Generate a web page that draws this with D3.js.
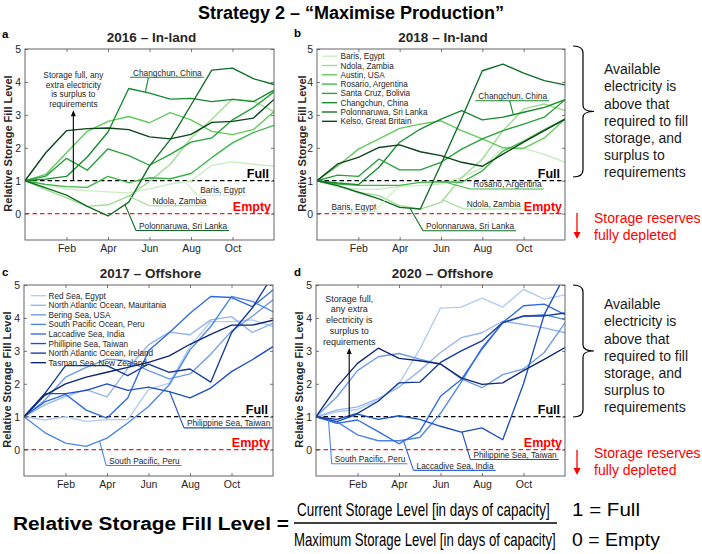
<!DOCTYPE html>
<html><head><meta charset="utf-8">
<script src="https://cdn.jsdelivr.net/npm/d3@7"></script>
<style>
body{margin:0;background:#fff;}
svg{display:block;font-family:"Liberation Sans",Arial,sans-serif;}
</style></head><body>
<svg id="chart" width="702" height="554"></svg>
<script>
// ---------- data ----------
const months = [0,1,2,3,4,5,6,7,8,9,10,11,12];
const tickMonths = [2,4,6,8,10];
const tickLabels = ["Feb","Apr","Jun","Aug","Oct"];
const yTicks = [0,1,2,3,4,5];

const inlandNames = ["Baris, Egypt","Ndola, Zambia","Austin, USA","Rosario, Argentina","Santa Cruz, Bolivia","Changchun, China","Polonnaruwa, Sri Lanka","Kelso, Great Britain"];
const offshoreNames = ["Red Sea, Egypt","North Atlantic Ocean, Mauritania","Bering Sea, USA","South Pacific Ocean, Peru","Laccadive Sea, India","Phillipine Sea, Taiwan","North Atlantic Ocean, Ireland","Tasman Sea, New Zealand"];

const greens = ["#c8eec0","#9edc92","#62c95c","#3bb548","#28a03a","#178a2e","#0f6c24","#0a4418"];
const blues  = ["#b0cbf4","#93b3ee","#6e9ae8","#4d85e7","#2f6adf","#1d4ec4","#153a98","#0c2570"];

const inland2016 = [
  [1,0.87,0.75,0.70,0.66,0.63,0.75,0.90,1.00,1.47,1.57,1.50,1.44],
  [1,0.73,0.48,0.22,0.27,0.53,0.98,1.50,2.30,2.87,3.48,3.42,3.10],
  [1,1.19,1.85,2.50,2.80,2.95,2.76,3.07,2.85,2.50,2.40,2.55,3.10],
  [1,0.89,0.82,0.80,1.13,0.94,1.09,1.06,1.22,1.70,2.15,2.46,2.68],
  [1,1.14,1.68,1.32,1.97,1.76,1.47,1.80,2.17,2.30,2.85,3.22,3.70],
  [1,1.05,1.13,1.72,2.48,3.80,3.66,3.48,3.50,3.40,3.47,3.40,3.75],
  [1,0.78,0.56,0.22,-0.07,0.35,1.45,2.25,3.30,4.36,4.42,4.10,3.92],
  [1,1.85,2.52,2.58,2.60,2.55,2.33,2.27,2.41,2.77,2.80,2.90,3.47]
];
const inland2018 = [
  [1,0.80,0.75,0.74,0.83,0.85,0.90,1.10,1.40,2.00,1.98,1.80,1.56],
  [1,0.85,0.65,0.55,0.24,0.14,0.34,1.10,1.66,2.52,3.18,3.33,3.13],
  [1,1.45,1.96,2.27,2.59,2.72,2.82,2.52,2.27,2.00,1.98,2.30,2.87],
  [1,0.90,0.86,0.86,0.86,0.95,0.97,0.95,1.30,1.90,2.20,2.55,2.87],
  [1,1.17,1.13,1.66,1.33,1.33,1.56,1.96,2.27,2.52,2.72,2.93,3.46],
  [1,0.93,0.88,1.41,2.17,2.57,2.87,3.13,2.85,2.93,3.08,3.23,3.46],
  [1,0.85,0.65,0.45,0.19,0.14,1.50,2.90,4.34,4.54,4.27,4.04,3.91],
  [1,1.51,1.71,2.01,2.09,1.88,1.76,1.56,1.44,1.81,2.17,2.52,2.87]
];
const offshore2017 = [
  [1,0.90,1.00,0.86,0.91,0.91,1.82,2.02,3.13,3.89,3.89,3.94,3.74],
  [1,1.36,1.62,1.82,1.60,2.47,3.18,3.57,3.49,3.94,4.04,3.56,3.84],
  [1,1.50,2.20,2.50,2.75,2.70,2.40,2.15,2.30,2.90,3.60,4.05,4.55],
  [1,0.52,0.20,0.10,0.35,0.81,1.31,1.97,3.03,3.74,4.65,4.50,4.19],
  [1,1.45,1.68,1.20,0.96,1.57,3.00,3.55,4.14,4.65,4.62,4.34,4.85],
  [1,1.70,1.70,1.80,2.00,1.80,1.90,1.76,1.57,1.87,2.37,2.73,3.13],
  [1,1.70,2.55,2.55,2.55,2.25,2.60,2.35,2.45,2.05,3.55,4.30,5.30],
  [1,1.65,2.00,2.20,2.35,2.50,2.65,2.85,3.20,3.50,3.78,3.78,3.93]
];
const offshore2020 = [
  [1,1.15,1.22,1.50,2.00,3.05,4.30,4.33,4.60,4.33,4.87,4.57,4.70],
  [1,1.20,1.30,1.55,1.90,2.40,2.95,3.40,3.55,3.90,3.80,3.70,3.55],
  [1,1.60,2.40,2.82,2.92,2.75,2.60,2.15,1.88,2.28,2.45,2.95,3.85],
  [1,0.85,0.45,0.27,0.27,0.37,1.10,2.05,3.10,3.85,4.05,4.10,3.95],
  [1,0.80,0.90,0.55,0.18,0.55,1.62,2.13,3.05,3.86,4.37,4.42,4.10],
  [1,0.85,1.08,0.92,1.03,0.92,0.71,0.53,0.66,0.30,2.00,4.10,5.30],
  [1,0.92,1.10,1.47,2.03,2.05,2.65,3.00,3.30,3.86,4.06,4.06,4.15],
  [1,1.90,2.62,3.08,2.77,2.70,2.60,2.18,1.98,2.03,2.40,2.74,3.10]
];

// callout labels: series index, text, underline start month / level, leader start month, leader target month
const labelsA = [
  {s:5, text:"Changchun, China", u0:5.06, uy:4.14, lx:5.95, lm:5.8},
  {s:0, text:"Baris, Egypt", u0:8.3, uy:0.56, lx:8.3, lm:7.7},
  {s:1, text:"Ndola, Zambia", u0:6.0, uy:0.24, lx:6.0, lm:5.0},
  {s:6, text:"Polonnaruwa, Sri Lanka", u0:5.35, uy:-0.51, lx:5.35, lm:4.82}
];
const labelsB = [
  {s:5, text:"Changchun, China", u0:7.66, uy:3.43, lx:9.32, lm:9.5},
  {s:3, text:"Rosario, Argentina", u0:7.42, uy:0.75, lx:7.42, lm:6.13},
  {s:1, text:"Ndola, Zambia", u0:7.1, uy:0.14, lx:7.1, lm:6.1},
  {s:0, text:"Baris, Egypt", u0:0.56, uy:0.06, lx:2.74, lm:3.95},
  {s:6, text:"Polonnaruwa, Sri Lanka", u0:5.13, uy:-0.52, lx:5.13, lm:4.5}
];
const labelsC = [
  {s:5, text:"Philippine Sea, Taiwan", u0:7.71, uy:0.66, lx:7.71, lm:7.02},
  {s:3, text:"South Pacific, Peru", u0:3.96, uy:-0.48, lx:3.96, lm:3.64}
];
const labelsD = [
  {s:3, text:"South Pacific, Peru", u0:0.76, uy:-0.43, lx:0.76, lm:0.6},
  {s:4, text:"Laccadive Sea, India", u0:4.7, uy:-0.63, lx:4.7, lm:4.22},
  {s:5, text:"Philippine Sea, Taiwan", u0:7.44, uy:-0.3, lx:7.44, lm:7.04}
];
const noteA = ["Storage full, any","extra electricity","is surplus to","requirements"];
const noteD = ["Storage full,","any extra","electricity is","surplus to","requirements"];
const sideNote = ["Available","electricity is","above that","required to fill","storage, and","surplus to","requirements"];
const sideRed = ["Storage reserves","fully depleted"];

// ---------- drawing ----------
const svg = d3.select("#chart");
const TXT = "#262626";

svg.append("text").attr("x",351).attr("y",19).attr("text-anchor","middle")
  .attr("font-size",18).attr("font-weight","bold").attr("fill","#000")
  .text("Strategy 2 – “Maximise Production”");

const panels = [
  {tag:"a", title:"2016 – In-land", x:25, y:49, w:249, h:191, names:inlandNames, data:inland2016, colors:greens, labels:labelsA, legend:null, ylabX:8.3, tagPos:[2,38], note:{lines:noteA, m:2.33, top:3.14, y0:78, step:9.7, fs:8.3}},
  {tag:"b", title:"2018 – In-land", x:317, y:49, w:248, h:191, names:inlandNames, data:inland2018, colors:greens, labels:labelsB, legend:{top:7.2, step:9.3, s0:5, s1:20, tx:23.5}, ylabX:301.7, tagPos:[294,37]},
  {tag:"c", title:"2017 – Offshore", x:24, y:285, w:249, h:191, names:offshoreNames, data:offshore2017, colors:blues, labels:labelsC, legend:{top:10.7, step:9.57, s0:6.7, s1:22, tx:24.5}, ylabX:7.3, tagPos:[2,276]},
  {tag:"d", title:"2020 – Offshore", x:316, y:285, w:249, h:191, names:offshoreNames, data:offshore2020, colors:blues, labels:labelsD, legend:null, ylabX:299.3, tagPos:[294,276], note:{lines:noteD, m:1.6, top:3.09, y0:301.5, step:10.8, fs:9}}
];

function valAt(arr, m){
  const i = Math.min(Math.floor(m), arr.length-2), t = m - i;
  return arr[i]*(1-t) + arr[i+1]*t;
}

panels.forEach((p,pi)=>{
  const xs = d3.scaleLinear().domain([0,12]).range([p.x, p.x+p.w]);
  const ys = d3.scaleLinear().domain([-0.8,5]).range([p.y+p.h, p.y]);
  const g = svg.append("g");

  g.append("text").attr("x",p.tagPos[0]).attr("y",p.tagPos[1]).attr("font-size",11.5)
    .attr("font-weight","bold").attr("fill","#000").text(p.tag);
  g.append("text").attr("x",p.x+p.w/2+2).attr("y",p.y-7.5).attr("text-anchor","middle")
    .attr("font-size",13.5).attr("font-weight","bold").attr("fill",TXT).text(p.title);

  g.append("text").attr("transform",`translate(${p.ylabX+4},${p.y+p.h/2-1}) rotate(-90)`)
    .attr("text-anchor","middle").attr("font-size",11).attr("font-weight","bold")
    .attr("fill",TXT).text("Relative Storage Fill Level");

  const cid = "clip"+pi;
  svg.append("clipPath").attr("id",cid).append("rect")
    .attr("x",p.x).attr("y",p.y).attr("width",p.w).attr("height",p.h);

  g.append("line").attr("x1",xs(0)).attr("x2",xs(12)).attr("y1",ys(1)).attr("y2",ys(1))
    .attr("stroke","#000").attr("stroke-width",1.3).attr("stroke-dasharray","4.5,3");
  g.append("line").attr("x1",xs(0)).attr("x2",xs(12)).attr("y1",ys(0)).attr("y2",ys(0))
    .attr("stroke","#ff1a1a").attr("stroke-width",1.3).attr("stroke-dasharray","4.5,3");
  g.append("text").attr("x",xs(12)-5).attr("y",ys(1)-2.5).attr("text-anchor","end")
    .attr("font-size",12.5).attr("font-weight","bold").attr("fill","#000").text("Full");
  g.append("text").attr("x",xs(12)-3).attr("y",ys(0)-2.5).attr("text-anchor","end")
    .attr("font-size",12.5).attr("font-weight","bold").attr("fill","#ff0000").text("Empty");

  const line = d3.line().x((d,i)=>xs(months[i])).y(d=>ys(d));
  const lg = g.append("g").attr("clip-path",`url(#${cid})`);
  p.data.forEach((s,i)=>{
    lg.append("path").attr("d",line(s)).attr("fill","none")
      .attr("stroke",p.colors[i]).attr("stroke-width",1.35).attr("stroke-linejoin","round");
  });

  p.labels.forEach(L=>{
    const col = p.colors[L.s];
    const uyPx = ys(L.uy);
    const t = g.append("text").attr("x",xs(L.u0)+3).attr("y",uyPx-1.8)
      .attr("font-size",8.3).attr("fill",TXT).text(L.text);
    const tw = t.node().getComputedTextLength();
    g.append("line").attr("x1",xs(L.u0)).attr("x2",xs(L.u0)+tw+5).attr("y1",uyPx).attr("y2",uyPx)
      .attr("stroke",col).attr("stroke-width",1.1);
    g.append("line").attr("x1",xs(L.lx)).attr("y1",uyPx)
      .attr("x2",xs(L.lm)).attr("y2",ys(valAt(p.data[L.s],L.lm)))
      .attr("stroke",col).attr("stroke-width",1.1);
  });

  if(p.legend){
    const Lg = p.legend;
    p.names.forEach((n,i)=>{
      const cy = p.y + Lg.top + i*Lg.step;
      g.append("line").attr("x1",p.x+Lg.s0).attr("x2",p.x+Lg.s1).attr("y1",cy).attr("y2",cy)
        .attr("stroke",p.colors[i]).attr("stroke-width",1.35);
      g.append("text").attr("x",p.x+Lg.tx).attr("y",cy+3).attr("font-size",8.2)
        .attr("fill",TXT).text(n);
    });
  }

  if(p.note){
    const N = p.note, cx = xs(N.m);
    N.lines.forEach((s,i)=>{
      g.append("text").attr("x",cx).attr("y",N.y0+i*N.step).attr("text-anchor","middle")
        .attr("font-size",N.fs).attr("fill",TXT).text(s);
    });
    const yTip = ys(N.top);
    g.append("line").attr("x1",cx).attr("x2",cx).attr("y1",ys(1)).attr("y2",yTip+3)
      .attr("stroke","#000").attr("stroke-width",1.1);
    g.append("path").attr("d",`M${cx},${yTip} L${cx-2.5},${yTip+6} L${cx+2.5},${yTip+6} Z`).attr("fill","#000");
  }

  const styleAx = sel=>{
    sel.select(".domain").remove();
    sel.selectAll(".tick line").attr("stroke","#555").attr("stroke-width",0.8);
    sel.selectAll("text").attr("font-size",10.5).attr("fill",TXT).attr("font-family","Liberation Sans, Arial, sans-serif");
  };
  g.append("g").attr("transform",`translate(${p.x},0)`)
    .call(d3.axisLeft(ys).tickValues(yTicks).tickSize(-3).tickPadding(4).tickFormat(d3.format("d"))).call(styleAx);
  g.append("g").attr("transform",`translate(${p.x+p.w},0)`)
    .call(d3.axisRight(ys).tickValues(yTicks).tickSize(-3).tickFormat("")).call(styleAx);
  g.append("g").attr("transform",`translate(0,${p.y+p.h})`)
    .call(d3.axisBottom(xs).tickValues(tickMonths).tickSize(-3).tickPadding(5).tickFormat((d,i)=>tickLabels[i])).call(styleAx);
  g.append("g").attr("transform",`translate(0,${p.y})`)
    .call(d3.axisTop(xs).tickValues(tickMonths).tickSize(-3).tickFormat("")).call(styleAx);
  g.append("rect").attr("x",p.x).attr("y",p.y).attr("width",p.w).attr("height",p.h)
    .attr("fill","none").attr("stroke","#555").attr("stroke-width",0.9);
});

// right-side annotations
[{top:46, bot:177, y0:74.4, r0:223.3, ay0:213, ay1:239},
 {top:285, bot:417, y0:309.4, r0:458.3, ay0:450, ay1:475}].forEach(A=>{
  const x0=573, x1=583, x2=594, mid=(A.top+A.bot)/2;
  svg.append("path").attr("fill","none").attr("stroke","#000").attr("stroke-width",1.2)
    .attr("d",`M${x0},${A.top} Q${x1},${A.top} ${x1},${A.top+7} L${x1},${mid-6} Q${x1},${mid} ${x2},${mid} Q${x1},${mid} ${x1},${mid+6} L${x1},${A.bot-7} Q${x1},${A.bot} ${x0},${A.bot}`);
  sideNote.forEach((s,i)=>{
    svg.append("text").attr("x",604).attr("y",A.y0+i*17.05).attr("font-size",14)
      .attr("fill","#1a1a1a").text(s);
  });
  sideRed.forEach((s,i)=>{
    svg.append("text").attr("x",594).attr("y",A.r0+i*17).attr("font-size",14)
      .attr("fill","#ff0000").text(s);
  });
  svg.append("line").attr("x1",577).attr("x2",577).attr("y1",A.ay0).attr("y2",A.ay1-5)
    .attr("stroke","#ff0000").attr("stroke-width",1.3);
  svg.append("path").attr("d",`M577,${A.ay1} L573.5,${A.ay1-7} L580.5,${A.ay1-7} Z`).attr("fill","#ff0000");
});

// bottom formula (texts squeezed horizontally to the reference widths)
function fitText(x, y, size, bold, width, str){
  const t = svg.append("text").attr("font-size",size).attr("font-weight",bold?"bold":"normal")
    .attr("fill","#000").text(str);
  const w0 = t.node().getComputedTextLength();
  t.attr("transform",`translate(${x},${y}) scale(${width/w0},1)`);
  return t;
}
fitText(13, 530, 19, true, 276, "Relative Storage Fill Level =");
svg.append("line").attr("x1",294).attr("x2",557).attr("y1",523).attr("y2",523).attr("stroke","#000").attr("stroke-width",1.3);
fitText(297, 516, 18, false, 253, "Current Storage Level [in days of capacity]");
fitText(294, 546, 18, false, 262, "Maximum Storage Level [in days of capacity]");
fitText(572, 516, 18, false, 68, "1 = Full");
fitText(572, 546, 18, false, 88, "0 = Empty");
</script>
</body></html>
